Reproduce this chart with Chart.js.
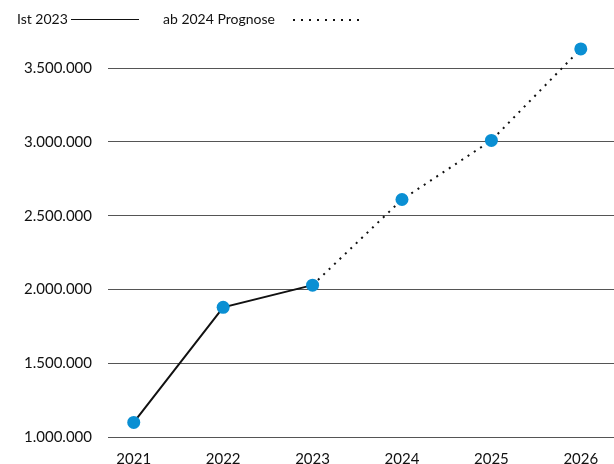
<!DOCTYPE html>
<html>
<head>
<meta charset="utf-8">
<script src="https://cdn.jsdelivr.net/npm/chart.js@4.4.1/dist/chart.umd.min.js"></script>
<style>
  html, body { margin: 0; padding: 0; background: #fff; overflow: hidden; width: 614px; height: 464px; }
  #wrap { position: absolute; left: 0; top: 0; width: 621px; height: 482px; }
  .legend { position: absolute; top: 10px; left: 17px; font: 14px Lato, sans-serif; color: #111; white-space: nowrap; }
  .legend span { position: absolute; top: 0; }
  .legend i { position: absolute; top: 9px; }
</style>
</head>
<body>
<div id="wrap"><canvas id="chart" width="621" height="482"></canvas></div>
<div class="legend">
  <span style="left:0">Ist 2023</span>
  <i style="left:54px;width:68px;height:0;border-top:1.5px solid #111"></i>
  <span style="left:146px">ab 2024 Prognose</span>
  <i style="left:276px;width:72px;height:2px;background:repeating-linear-gradient(to right,#111 0 2px,transparent 2px 8px)"></i>
</div>
<script>
const years = ['2021', '2022', '2023', '2024', '2025', '2026']
const values = [1100000, 1880000, 2030000, 2610000, 3010000, 3630000]
const yTicks = [1000000, 1500000, 2000000, 2500000, 3000000, 3500000]
const lastActual = 2 // index of 2023, after this the forecast is dotted

const fmt = v => v.toLocaleString('de-DE')

const ctx = document.querySelector('#chart').getContext('2d')

new Chart(ctx, {
  type: 'line',
  data: {
    datasets: [
      {
        data: years.map((y, i) => ({ x: Number(y), y: values[i] })),
        borderColor: '#111',
        borderWidth: 2,
        segment: {
          borderDash: c => c.p0DataIndex >= lastActual ? [2, 5.5] : undefined
        },
        pointRadius: 6.5,
        pointHoverRadius: 6.5,
        pointBackgroundColor: '#0a8fd3',
        pointBorderWidth: 0,
        tension: 0,
        clip: false
      }
    ]
  },
  options: {
    responsive: false,
    animation: false,
    layout: { padding: { top: 38.6, right: 0, bottom: 0, left: 0 } },
    plugins: { legend: { display: false }, tooltip: { enabled: false } },
    scales: {
      x: {
        type: 'linear',
        min: 2020.712,
        max: 2026.377,
        grid: { display: false, drawTicks: false },
        border: { display: false },
        afterBuildTicks: axis => { axis.ticks = years.map(y => ({ value: Number(y) })) },
        ticks: {
          padding: 13.4,
          color: '#111',
          font: { family: 'Lato', size: 15 },
          callback: v => String(v)
        }
      },
      y: {
        min: 1000000,
        max: 3700000,
        afterBuildTicks: axis => { axis.ticks = yTicks.map(v => ({ value: v })) },
        afterFit: axis => { axis.width = 108 },
        grid: { color: '#555', lineWidth: 1, drawTicks: false },
        border: { display: false },
        ticks: {
          padding: 16,
          color: '#111',
          font: { family: 'Lato', size: 15 },
          callback: v => fmt(v)
        }
      }
    }
  }
})
</script>
</body>
</html>
